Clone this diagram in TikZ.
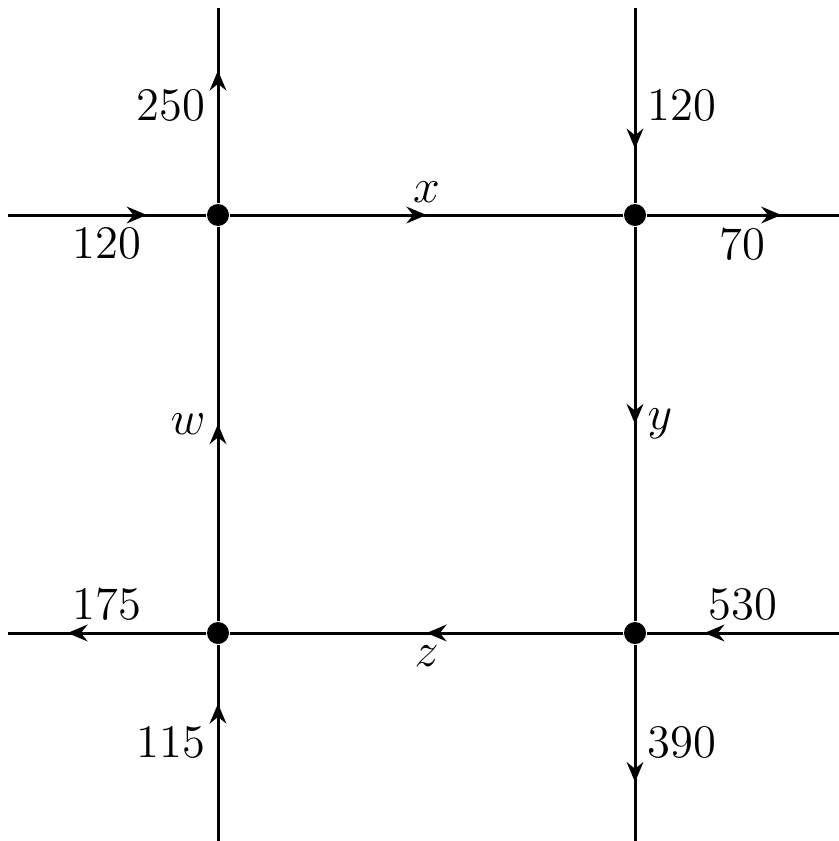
\documentclass[tikz,border=0pt]{standalone}
\usetikzlibrary{arrows.meta,decorations.markings}
\begin{document}
\begin{tikzpicture}[
    x=0.3pt, y=-0.3pt,
    every node/.style={font=\fontsize{14pt}{16pt}\selectfont},
    dot/.style={circle, fill=black, inner sep=0pt, minimum size=6.6pt},
    road/.style={line width=0.9pt},
    flow/.style={road, postaction={decorate}, decoration={markings,
        mark=at position #1 with {\arrow{Stealth[length=6pt, width=5pt, inset=2pt]}}}},
    flow/.default=0.5,
]
\useasboundingbox (0,0) rectangle (839,841);
% intersections
\node[dot] (A) at (218,215) {};
\node[dot] (B) at (635,215) {};
\node[dot] (C) at (218,633) {};
\node[dot] (D) at (635,633) {};
% open road ends
\coordinate (nA) at (218,8);
\coordinate (wA) at (8,215);
\coordinate (nB) at (635,8);
\coordinate (eB) at (839,215);
\coordinate (wC) at (8,633);
\coordinate (sC) at (218,841);
\coordinate (eD) at (839,633);
\coordinate (sD) at (635,841);
% outer flows
\draw[flow=0.68] (A) -- node[left]{250} (nA);
\draw[flow=0.7] (wA) -- node[below]{120} (A);
\draw[flow=0.72] (nB) -- node[right]{120} (B);
\draw[flow=0.7] (B) -- node[below]{70} (eB);
\draw[flow=0.7] (C) -- node[above]{175} (wC);
\draw[flow=0.7] (sC) -- node[left]{115} (C);
\draw[flow=0.7] (eD) -- node[above]{530} (D);
\draw[flow=0.7] (D) -- node[right]{390} (sD);
% inner flows
\draw[flow] (A) -- node[above]{$x$} (B);
\draw[flow] (B) -- node[right]{$y$} (D);
\draw[flow] (D) -- node[below]{$z$} (C);
\draw[flow] (C) -- node[left]{$w$} (A);
\end{tikzpicture}
\end{document}
